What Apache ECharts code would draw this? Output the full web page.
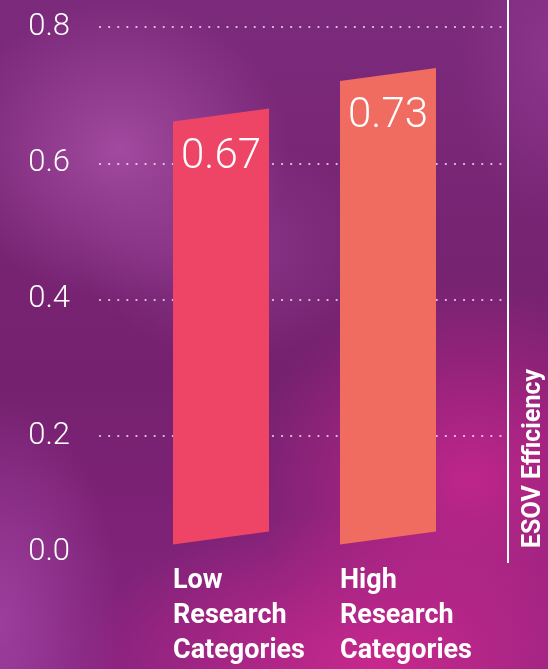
<!DOCTYPE html>
<html>
<head>
<meta charset="utf-8">
<script src="https://cdn.jsdelivr.net/npm/echarts@6/dist/echarts.min.js"></script>
<style>
  html, body { margin: 0; padding: 0; }
  #chart {
    width: 548px; height: 669px;
    background:
      radial-gradient(ellipse 170px 150px at 120px 150px, rgba(168, 80, 166, 0.85), rgba(168, 80, 166, 0) 100%),
      radial-gradient(ellipse 150px 110px at 230px 250px, rgba(150, 64, 150, 0.6), rgba(150, 64, 150, 0) 100%),
      radial-gradient(ellipse 120px 220px at 0px 620px, rgba(158, 66, 160, 0.9), rgba(158, 66, 160, 0) 100%),
      radial-gradient(ellipse 220px 200px at 470px 480px, rgba(198, 38, 140, 0.9), rgba(198, 38, 140, 0) 100%),
      radial-gradient(ellipse 300px 150px at 380px 660px, rgba(204, 40, 142, 0.95), rgba(204, 40, 142, 0) 100%),
      radial-gradient(ellipse 90px 160px at 548px 60px, rgba(150, 60, 150, 0.6), rgba(150, 60, 150, 0) 100%),
      linear-gradient(180deg, #7c2a7c 0%, #75216f 55%, #85237e 100%);
  }
</style>
</head>
<body>
<div id="chart"></div>
<script>
// 数据
var categories = ["Low\nResearch\nCategories", "High\nResearch\nCategories"];
var efficiency = [0.67, 0.73];
var yTicks = [0, 0.2, 0.4, 0.6, 0.8];
var barColors = ["#ee4466", "#f06b60"];

(function() {
  var myChart = echarts.init(document.getElementById("chart"));

  var option = {
    backgroundColor: "transparent",
    animation: false,
    grid: [
      // 网格线 + y轴
      { left: 100, right: 46, top: 27, bottom: 97 },
      // 柱子
      { left: 137.5, right: 76.5, top: 27, bottom: 97 }
    ],
    xAxis: [
      { gridIndex: 0, type: "value", show: false },
      {
        gridIndex: 1,
        type: "category",
        data: categories,
        axisLine: { show: false },
        axisTick: { show: false },
        axisLabel: {
          interval: 0,
          hideOverlap: false,
          color: "#fff",
          fontFamily: "Roboto",
          fontWeight: "bold",
          fontSize: 27,
          lineHeight: 35,
          align: "left",
          verticalAlign: "top",
          padding: [0, 0, 0, -48],
          margin: -5
        }
      }
    ],
    yAxis: [
      {
        gridIndex: 0,
        type: "value",
        min: yTicks[0],
        max: yTicks[yTicks.length - 1],
        interval: 0.2,
        axisLine: { show: false },
        axisTick: { show: false },
        axisLabel: {
          color: "#fff",
          fontFamily: "Roboto",
          fontWeight: 300,
          fontSize: 31,
          margin: 30,
          formatter: function(v, i) {
            // 0.0 标签在原图中略微上移
            return i === 0 ? "{z|" + v.toFixed(1) + "}" : v.toFixed(1);
          },
          rich: {
            z: {
              color: "#fff",
              fontFamily: "Roboto",
              fontWeight: 300,
              fontSize: 31,
              padding: [0, 0, 40, 0]
            }
          }
        },
        splitLine: {
          show: true,
          lineStyle: {
            // 第一条 (0.0) 不显示
            color: ["rgba(255,255,255,0)", "rgba(255,255,255,.75)", "rgba(255,255,255,.75)", "rgba(255,255,255,.75)", "rgba(255,255,255,.75)"],
            width: 2.2,
            type: [0.1, 9],
            cap: "round"
          }
        }
      },
      {
        gridIndex: 1,
        type: "value",
        min: yTicks[0],
        max: yTicks[yTicks.length - 1],
        show: false
      }
    ],
    graphic: [
      {
        type: "line",
        shape: { x1: 508, y1: 0, x2: 508, y2: 563 },
        style: { stroke: "#fff", lineWidth: 2 }
      },
      {
        type: "text",
        x: 534,
        y: 548,
        rotation: Math.PI / 2,
        style: {
          text: "ESOV Efficiency",
          fill: "#fff",
          font: "bold 25px Roboto",
          textAlign: "left",
          textVerticalAlign: "middle"
        }
      }
    ],
    series: [
      {
        type: "custom",
        xAxisIndex: 1,
        yAxisIndex: 1,
        data: efficiency.map(function(v, i) { return [i, v]; }),
        renderItem: function(params, api) {
          var top = api.coord([api.value(0), api.value(1)]);
          var base = api.coord([api.value(0), 0]);
          var x = top[0];
          var w = 96, s = 6.5, lift = 31;
          var yTop = top[1], yBot = base[1] - lift;
          return {
            type: "group",
            children: [
              {
                type: "polygon",
                shape: {
                  points: [
                    [x - w / 2, yTop + s],
                    [x + w / 2, yTop - s],
                    [x + w / 2, yBot - s],
                    [x - w / 2, yBot + s]
                  ]
                },
                style: { fill: barColors[params.dataIndex] }
              },
              {
                type: "text",
                x: x,
                y: yTop + 42,
                style: {
                  text: api.value(1).toFixed(2),
                  fill: "#fff",
                  font: "300 42px Roboto",
                  textAlign: "center",
                  textVerticalAlign: "middle"
                }
              }
            ]
          };
        }
      }
    ]
  };

  myChart.setOption(option);
  window.addEventListener("resize", function() {
    myChart.resize();
  });
})();
</script>
</body>
</html>
